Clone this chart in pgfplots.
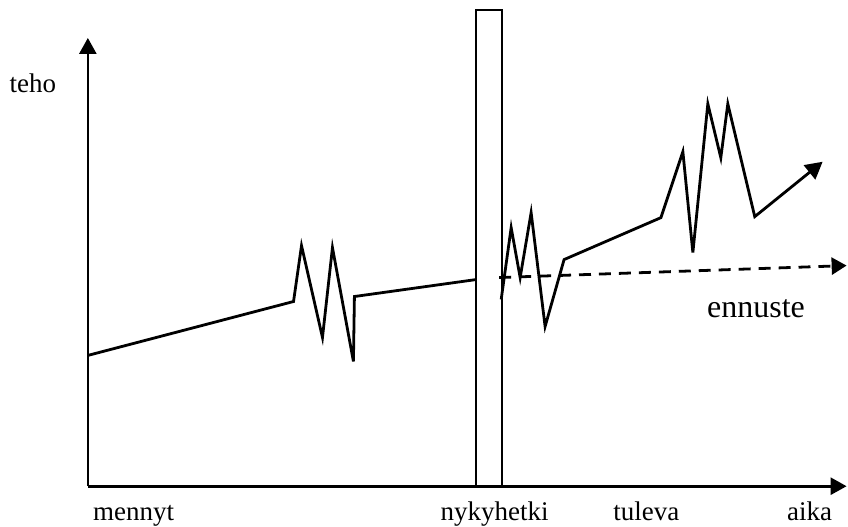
\documentclass[border=0pt]{standalone}
\usepackage{fontspec}
\setmainfont{Liberation Serif}
\usepackage{pgfplots}
\pgfplotsset{compat=1.18}
\usetikzlibrary{arrows.meta}

\begin{document}
\begin{tikzpicture}
\begin{axis}[
    scale only axis,
    width=380pt, height=224.5pt,
    xmin=0, xmax=760, ymin=0, ymax=449,
    axis lines=left,
    ticks=none,
    clip=false,
    axis line style={line width=1.3pt},
    x axis line style={-{Triangle[length=8pt,width=8.5pt]}},
    y axis line style={-{Triangle[length=8pt,width=8.5pt]}},
  ]
  % page frame = reference picture (848 x 527 px)
  \path (axis cs:-88,-40) rectangle (axis cs:760,487);

  % the present: a tall narrow box
  \addplot[black, line width=0.9pt] coordinates {
    (389,0) (389,477) (415,477) (415,0) (389,0)
  };

  % past
  \addplot[black, line width=1.4pt, line join=miter] coordinates {
    (0,131) (206,185) (214,241) (235,149) (245,239) (266,125) (267,190) (389,207)
  };

  % future
  \addplot[black, line width=1.4pt, line join=miter,
           -{Triangle[length=8.5pt,width=9pt]}] coordinates {
    (414,187) (424,259) (433,209) (444,274) (458,160) (477,227) (574,269)
    (596,335) (606,234) (621,383) (634,329) (641,383) (668,270) (736,325)
  };

  % forecast
  \addplot[black, line width=1.4pt, dash pattern=on 6pt off 4pt,
           -{Triangle[length=7.5pt,width=8.5pt]}] coordinates {
    (412,209) (760,221)
  };

  \node[font=\fontsize{13.5}{16}\selectfont] at (axis cs:-55,404) {teho};
  \node[font=\fontsize{13.5}{16}\selectfont, anchor=base west, inner sep=0pt] at (axis cs:5,-34) {mennyt};
  \node[font=\fontsize{13.5}{16}\selectfont, anchor=base west, inner sep=0pt] at (axis cs:353,-34) {nykyhetki};
  \node[font=\fontsize{13.5}{16}\selectfont, anchor=base west, inner sep=0pt] at (axis cs:526,-34) {tuleva};
  \node[font=\fontsize{13.5}{16}\selectfont, anchor=base west, inner sep=0pt] at (axis cs:700,-34) {aika};
  \node[font=\fontsize{16}{19}\selectfont, anchor=base west, inner sep=0pt] at (axis cs:620,169) {ennuste};
\end{axis}
\end{tikzpicture}
\end{document}
